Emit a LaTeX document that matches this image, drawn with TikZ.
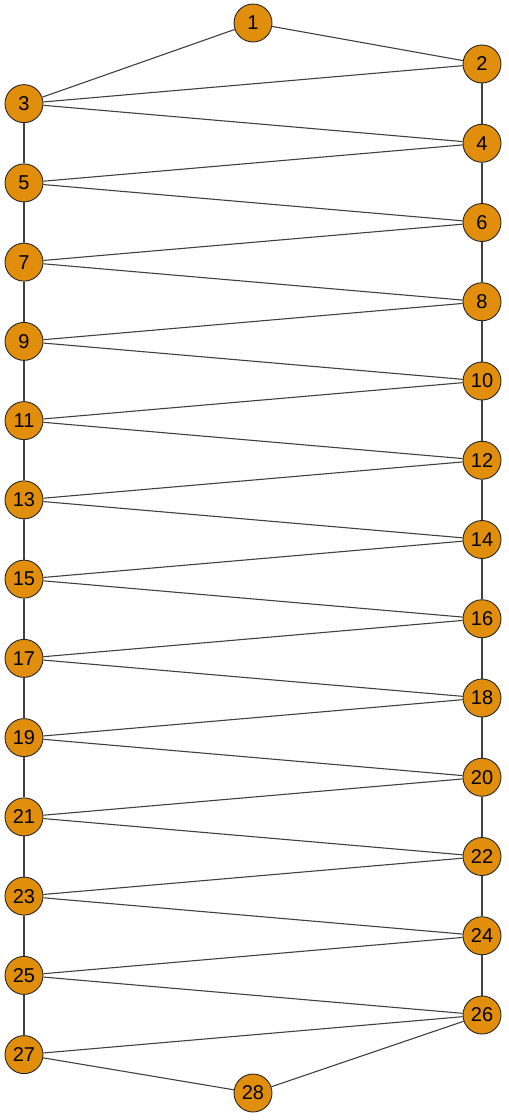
\documentclass[tikz,border=0pt]{standalone}
\usepackage{fontspec}
\setmainfont{Liberation Sans}
\usepackage{tikz}
\usetikzlibrary{positioning}
\usepackage{xcolor}
\definecolor{vtxorange}{HTML}{E08E0B}

\tikzset{
    vtx/.style={circle, draw=black!85, line width=0.9pt, fill=vtxorange, minimum size=38pt, inner sep=0pt, font=\fontsize{20}{20}\selectfont},
    edge/.style={draw=black!75, line width=1.1pt}
}

\begin{document}
\begin{tikzpicture}[x=1pt, y=-1pt]
    \useasboundingbox (0,0) rectangle (509,1120);

    \node[vtx] (n1) at (253,23) {1};
    \foreach \k in {2,4,...,26} {
        \node[vtx] (n\k) at (482,{64+(\k-2)*39.625}) {\k};
    }
    \foreach \k in {3,5,...,27} {
        \node[vtx] (n\k) at (24,{64+(\k-2)*39.625}) {\k};
    }
    \node[vtx] (n28) at (253,1093) {28};

    \draw[edge] (n1) -- (n2);
    \draw[edge] (n1) -- (n3);
    \foreach \k in {2,...,26} {
        \pgfmathtruncatemacro{\a}{\k+1}
        \pgfmathtruncatemacro{\b}{\k+2}
        \draw[edge] (n\k) -- (n\a);
        \draw[edge] (n\k) -- (n\b);
    }
    \draw[edge] (n27) -- (n28);
\end{tikzpicture}
\end{document}
